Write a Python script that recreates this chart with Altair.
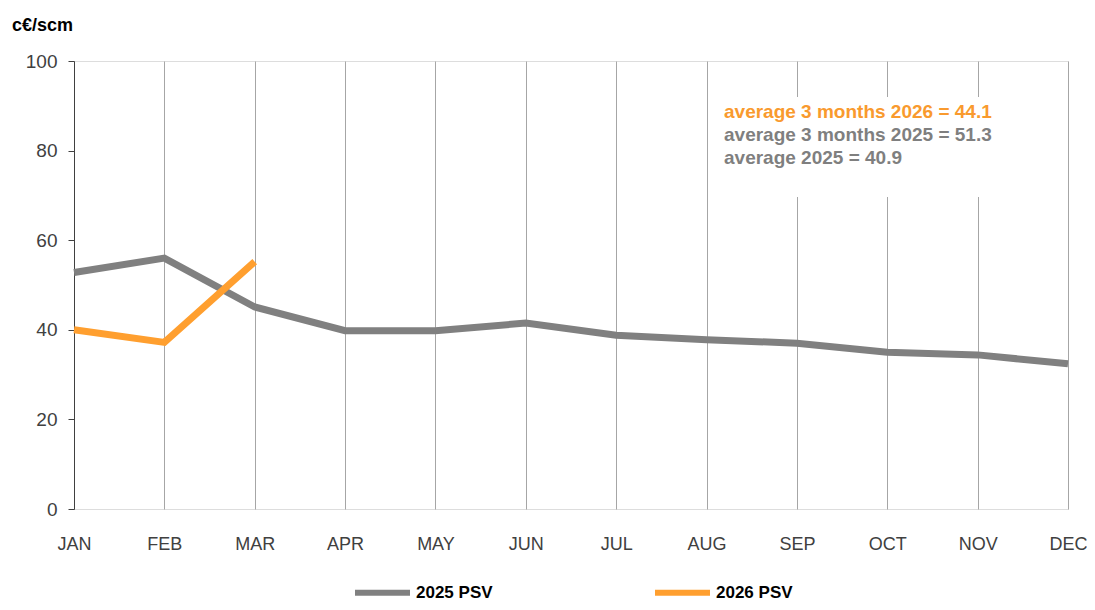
import altair as alt
import pandas as pd

months = ["JAN", "FEB", "MAR", "APR", "MAY", "JUN", "JUL", "AUG", "SEP", "OCT", "NOV", "DEC"]
psv_2025 = [52.8, 56.0, 45.1, 39.8, 39.8, 41.5, 38.8, 37.8, 37.0, 35.0, 34.4, 32.4]
psv_2026 = [40.0, 37.2, 55.2]
series_names = ["2025 PSV", "2026 PSV"]
series_colors = ["#808080", "#FF9F2F"]
y_ticks = [0, 20, 40, 60, 80, 100]
note_lines = [
    "average 3 months 2026 = 44.1",
    "average 3 months 2025 = 51.3",
    "average 2025 = 40.9",
]
note_colors = ["#F99A2E", "#7F7F7F", "#7F7F7F"]
unit_title = "c€/scm"

rows = []
for m, v in zip(months, psv_2025):
    rows.append({"month": m, "value": v, "series": series_names[0]})
for m, v in zip(months, psv_2026):
    rows.append({"month": m, "value": v, "series": series_names[1]})
df = pd.DataFrame(rows)

FONT = "Liberation Sans"

x_enc = alt.X(
    "month:N",
    sort=months,
    scale=alt.Scale(type="point", padding=0),
    axis=alt.Axis(
        title=None,
        domain=False,
        ticks=False,
        grid=True,
        gridColor="#A6A6A6",
        gridWidth=1,
        labelAngle=0,
        labelPadding=26,
        labelFontSize=18,
        labelColor="#404040",
        labelFont=FONT,
    ),
)
y_enc = alt.Y(
    "value:Q",
    scale=alt.Scale(domain=[0, 100], nice=False, zero=True),
    axis=alt.Axis(
        title=None,
        values=y_ticks,
        grid=False,
        domain=True,
        domainColor="#404040",
        domainWidth=1,
        ticks=True,
        tickColor="#404040",
        tickSize=6,
        labelPadding=11,
        labelFontSize=19,
        labelColor="#404040",
        labelFont=FONT,
    ),
)

lines = alt.Chart(df).mark_line(strokeWidth=7, strokeCap="butt").encode(
    x=x_enc,
    y=y_enc,
    color=alt.Color(
        "series:N",
        scale=alt.Scale(domain=series_names, range=series_colors),
        legend=alt.Legend(
            title=None,
            orient="none",
            direction="horizontal",
            legendX=278,
            legendY=501,
            padding=0,
            symbolType="stroke",
            symbolSize=3025,
            symbolStrokeWidth=6,
            labelOffset=3,
            columnPadding=150,
            labelFontSize=17,
            labelFontWeight="bold",
            labelColor="#000000",
            labelFont=FONT,
        ),
    ),
)

box_df = pd.DataFrame({"note": [note_lines[0]]})
box = alt.Chart(box_df).mark_rect(color="white").encode(
    x=alt.value(646), x2=alt.value(982), y=alt.value(36), y2=alt.value(136)
)

note_layers = []
for i, (txt, col) in enumerate(zip(note_lines, note_colors)):
    note_layers.append(
        alt.Chart(pd.DataFrame({"t": [txt]}))
        .mark_text(
            align="left",
            baseline="middle",
            fontSize=19,
            fontWeight="bold",
            font=FONT,
            color=col,
        )
        .encode(text="t:N", x=alt.value(650), y=alt.value(51 + 23 * i))
    )

chart = (
    alt.layer(lines, box, *note_layers)
    .properties(
        width=994,
        height=448,
        title=alt.Title(
            unit_title,
            anchor="start",
            frame="group",
            dx=-62,
            offset=17,
            fontSize=18,
            fontWeight="bold",
            font=FONT,
            color="#000000",
        ),
        autosize=alt.AutoSizeParams(type="none"),
        padding={"left": 66, "top": 53, "right": 19, "bottom": 93},
    )
    .configure_view(stroke=None)
    .configure(background="white")
)

chart.save("out.html", embed_options={"renderer": "svg", "actions": False})
